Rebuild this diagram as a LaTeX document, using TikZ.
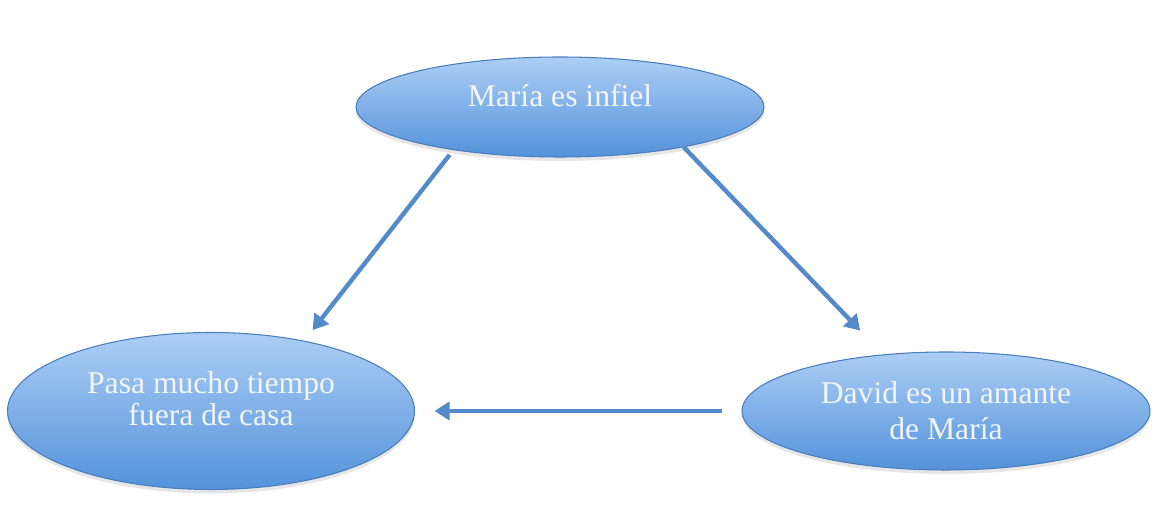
\documentclass[tikz,border=0pt]{standalone}
\usepackage{fontspec}
\setmainfont{Liberation Serif}
\usepackage{tikz}
\usetikzlibrary{shapes,arrows.meta,positioning,calc,shadows}
\definecolor{ovaltop}{RGB}{172,206,245}
\definecolor{ovalbot}{RGB}{84,146,218}
\definecolor{ovalline}{RGB}{72,125,190}
\definecolor{arrowblue}{RGB}{82,138,202}
\definecolor{textwhite}{RGB}{242,246,252}

\begin{document}
\begin{tikzpicture}[
  oval/.style={ellipse, draw=ovalline, line width=0.6pt, top color=ovaltop, bottom color=ovalbot,
    text=textwhite, font=\fontsize{18}{18.5}\selectfont, align=center, inner sep=0pt,
    drop shadow={opacity=0.2, shadow xshift=0pt, shadow yshift=-0.08cm}},
  link/.style={arrowblue, line width=2.5pt, -{Triangle[length=0.3cm,width=0.36cm]}}
]
  \useasboundingbox (0,0) rectangle (23.28,10.14);

  % Ovals
  \node[oval, minimum width=8.16cm, minimum height=2cm, text depth=0.45cm] (infiel) at (11.2,8.0) {María es infiel};
  \node[oval, minimum width=8.14cm, minimum height=3.14cm, text depth=0.5cm] (fuera) at (4.22,1.92) {Pasa mucho tiempo\\fuera de casa};
  \node[oval, minimum width=8.16cm, minimum height=2.36cm, font=\fontsize{18}{20.5}\selectfont] (amante) at (18.92,1.92) {David es un amante\\de María};

  % Arrows
  \draw[link, shorten <=0.12cm, shorten >=0.27cm] (infiel.202) -- (fuera.37);
  \draw[link, shorten >=0.66cm] (infiel.342) -- (amante.138);
  \draw[link, shorten <=0.38cm, shorten >=0.39cm] (amante.180) -- (fuera.0);
\end{tikzpicture}
\end{document}
